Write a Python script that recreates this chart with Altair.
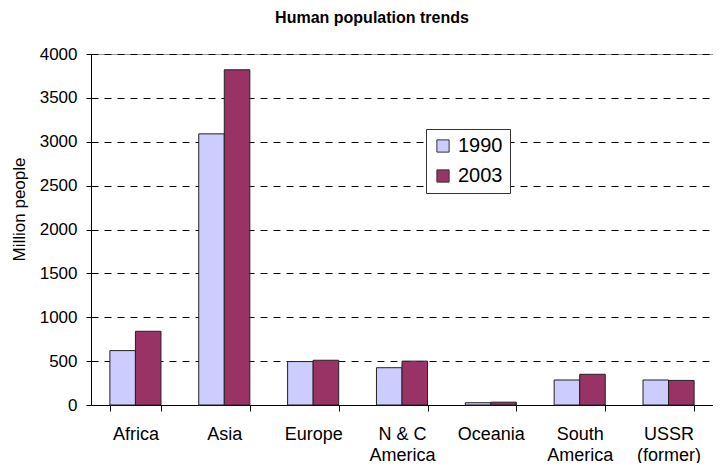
import altair as alt
import pandas as pd

categories = ["Africa", "Asia", "Europe", "N & C\nAmerica", "Oceania", "South\nAmerica", "USSR\n(former)"]
years = ["1990", "2003"]
v1990 = [620, 3090, 495, 425, 26, 285, 285]
v2003 = [840, 3820, 510, 500, 32, 350, 280]
colors = ["#CCCCFF", "#993366"]
y_ticks = [0, 500, 1000, 1500, 2000, 2500, 3000, 3500, 4000]

rows = []
for c, a, b in zip(categories, v1990, v2003):
    rows.append({"region": c, "year": years[0], "pop": a})
    rows.append({"region": c, "year": years[1], "pop": b})
df = pd.DataFrame(rows)

FONT = "Liberation Sans"

chart = alt.Chart(df).mark_bar(stroke="#222222", strokeWidth=1).encode(
    x=alt.X("region:N", sort=categories,
            scale=alt.Scale(paddingInner=0.425, paddingOuter=0.2125),
            axis=alt.Axis(title=None, labelAngle=0, labelFontSize=18,
                          labelExpr="split(datum.label, '\\n')",
                          labelLineHeight=21, labelPadding=14,
                          tickBand="extent", tickSize=6, tickColor="black",
                          domainColor="black", labelColor="black",
                          labelFont=FONT, grid=False)),
    xOffset=alt.XOffset("year:N", sort=years),
    y=alt.Y("pop:Q",
            scale=alt.Scale(domain=[0, 4000], nice=False),
            axis=alt.Axis(title="Million people", values=y_ticks, format="d",
                          titleFontSize=17, titleFont=FONT, titleFontWeight="normal",
                          titleColor="black", titleAngle=270, titleBaseline="middle",
                          titleX=-72, titleY=155,
                          labelFontSize=17, labelFont=FONT, labelColor="black",
                          labelPadding=9, tickSize=5, tickColor="black",
                          domainColor="black",
                          grid=True, gridColor="black", gridDash=[7, 6],
                          gridWidth=1)),
    color=alt.Color("year:N", sort=years,
                    scale=alt.Scale(domain=years, range=colors),
                    legend=alt.Legend(title=None, orient="none",
                                      legendX=335, legendY=75,
                                      symbolType="square", symbolSize=150,
                                      symbolStrokeColor="#333333",
                                      symbolStrokeWidth=1, symbolOpacity=1,
                                      labelFontSize=20, labelFont=FONT,
                                      labelColor="black", labelOffset=5,
                                      rowPadding=10, padding=7,
                                      strokeColor="#333333", fillColor="white")),
).properties(
    width=622,
    height=351,
    title=alt.TitleParams("Human population trends", fontSize=16, font=FONT,
                          fontWeight="bold", color="black", anchor="middle",
                          dx=-30, offset=19),
    autosize=alt.AutoSizeParams(type="none"),
    padding={"left": 83, "top": 46, "right": 0, "bottom": 58},
).configure_view(stroke="#999999", strokeWidth=1)

chart.save("out.html", embed_options={"renderer": "svg", "actions": False})
